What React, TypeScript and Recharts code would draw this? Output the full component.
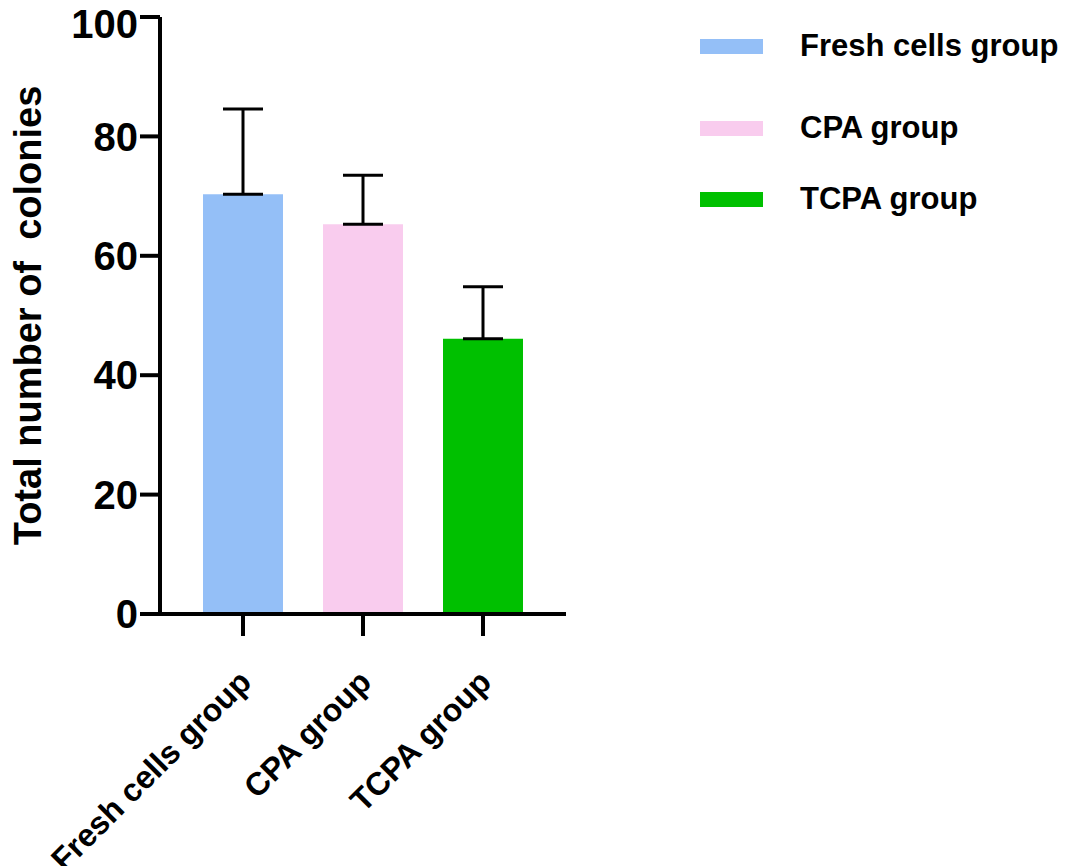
import { BarChart, Bar, XAxis, YAxis, ErrorBar, Cell, Legend } from "recharts";

const groups = ["Fresh cells group", "CPA group", "TCPA group"];
const means = [70.3, 65.3, 46.1];
const sds = [14.3, 8.2, 8.7];
const colors = ["#94BFF7", "#F9CCEE", "#00C000"];
const yTicks = [0, 20, 40, 60, 80, 100];

const data = groups.map((g, i) => ({ name: g, value: means[i], err: [0, sds[i]] }));

const font = "'Liberation Sans', Arial, sans-serif";

function XTick(props: any) {
  const { x, y, payload } = props;
  return (
    <text
      transform={`translate(${x + 10},${y + 46}) rotate(-45)`}
      textAnchor="end"
      fontFamily={font}
      fontWeight="bold"
      fontSize={32}
      fill="#000"
    >
      {payload.value}
    </text>
  );
}

function YLabel(props: any) {
  const vb = props.viewBox || { x: 60, y: 17, height: 597 };
  const cx = vb.x - 32;
  const cy = vb.y + vb.height / 2;
  return (
    <text
      transform={`translate(${cx},${cy}) rotate(-90)`}
      textAnchor="middle"
      dominantBaseline="central"
      fontFamily={font}
      fontWeight="bold"
      fontSize={38}
      fill="#000"
      style={{ whiteSpace: "pre" }}
    >
      Total number of&#160; colonies
    </text>
  );
}

function LegendBox() {
  const tops = [28, 110, 181];
  return (
    <div style={{ position: "relative", fontFamily: font, fontWeight: "bold", fontSize: 31 }}>
      {groups.map((g, i) => (
        <div key={g} style={{ position: "absolute", left: 0, top: tops[i], display: "flex", alignItems: "center" }}>
          <div style={{ width: 63, height: 15, background: colors[i], marginRight: 37 }} />
          <span style={{ whiteSpace: "nowrap" }}>{g}</span>
        </div>
      ))}
    </div>
  );
}

export default function App() {
  return (
    <div style={{ position: "absolute", left: 0, top: 0, width: 1071, height: 866, background: "#fff" }}>
      <BarChart width={1071} height={866} data={data} margin={{ top: 17, right: 505, bottom: 222, left: 60 }}>
        <XAxis
          dataKey="name"
          padding={{ left: 23, right: 23 }}
          stroke="#000"
          strokeWidth={4}
          tickSize={22}
          tick={<XTick />}
          interval={0}
        />
        <YAxis
          width={100}
          domain={[0, 100]}
          ticks={yTicks}
          stroke="#000"
          strokeWidth={4}
          tickSize={20}
          tick={{ fontFamily: font, fontWeight: "bold", fontSize: 40, fill: "#000" }}
          label={<YLabel />}
        />
        <Legend content={<LegendBox />} wrapperStyle={{ position: "absolute", left: 700, top: 0, width: 371 }} />
        <Bar dataKey="value" barSize={80} isAnimationActive={false}>
          {data.map((d, i) => (
            <Cell key={d.name} fill={colors[i]} />
          ))}
          <ErrorBar dataKey="err" width={20} stroke="#000" strokeWidth={3} direction="y" />
        </Bar>
      </BarChart>
    </div>
  );
}
